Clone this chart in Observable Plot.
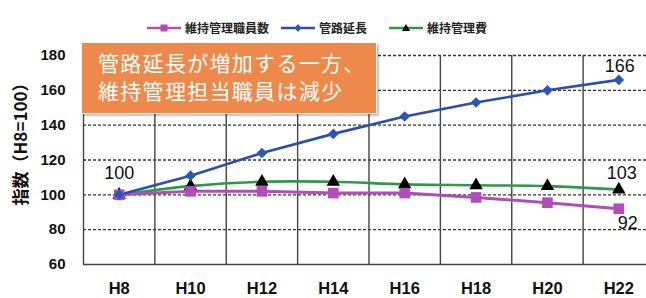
<!DOCTYPE html>
<html><head><meta charset="utf-8">
<script src="https://cdn.jsdelivr.net/npm/d3@7"></script>
<script src="https://cdn.jsdelivr.net/npm/@observablehq/plot@0.6"></script>
<style>
html,body{margin:0;padding:0;background:#fff;}
#wrap{position:relative;width:646px;height:298px;overflow:hidden;font-family:"Liberation Sans",Arial,"Noto Sans CJK JP",sans-serif;}
#wrap > svg{position:absolute;left:0;top:0;overflow:visible;}
.litem{position:absolute;top:19px;display:flex;align-items:center;font-family:"Noto Sans CJK JP",sans-serif;font-weight:700;font-size:12px;color:#222;white-space:nowrap;}
.litem svg{margin-right:4px;}
#note{position:absolute;left:81px;top:42px;width:296px;height:72px;background:#EE894B;border:1px solid #fff;box-shadow:2px 2px 2px rgba(0,0,0,0.25);color:#fff;font-family:"Noto Sans CJK JP",sans-serif;font-weight:400;font-size:21px;line-height:28px;padding:5px 0 0 16px;box-sizing:border-box;letter-spacing:1.3px;}
[aria-label^="x-axis"] text{font-size:16.5px;font-weight:700;fill:#111;}
[aria-label^="y-axis"] text{font-size:15px;font-weight:700;fill:#111;}
</style>
</head><body>
<div id="wrap"></div>
<script>
const categories = ["H8","H10","H12","H14","H16","H18","H20","H22"];
const staff = [100,102,102,101,101,98.5,95.5,92];
const pipe = [100,111,124,135,145,153,160,166];
const cost = [100,105,107.5,107.5,106,105.5,105,103];
const yTicks = [60,80,100,120,140,160,180];
const seriesNames = ["維持管理職員数","管路延長","維持管理費"];
const seriesColors = ["#B04DB8","#2C4FAE","#2E9A48"];
const yLabel = "指数（H8=100）";
const noteLines = ["管路延長が増加する一方、","維持管理担当職員は減少"];

const toRows = (vals) => vals.map((v,i)=>({i, v}));
const staffRows = toRows(staff), pipeRows = toRows(pipe), costRows = toRows(cost);
const boundaries = categories.slice(1).map((_,i)=>i+0.5);
const last = categories.length-1;
const lbl = (rows, idx, dx, dy) => Plot.text([rows[idx]], {x:"i", y:"v", text:d=>String(d.v), dx, dy, fontSize:18, fill:"#111"});

const chart = Plot.plot({
  width:646, height:298,
  marginTop:55, marginBottom:34, marginLeft:83, marginRight:0,
  style:{fontFamily:'"Liberation Sans",Arial,sans-serif', background:"transparent", overflow:"visible"},
  x:{domain:[-0.5, categories.length-0.5], range:[83,654], ticks:categories.map((_,i)=>i), tickFormat:i=>categories[i], tickSize:0, tickPadding:18, label:null},
  y:{domain:[60,180], ticks:yTicks, tickSize:0, tickPadding:18, label:null},
  marks:[
    Plot.ruleY(yTicks.slice(1), {stroke:"#333", strokeWidth:1.3, strokeDasharray:"3,2"}),
    Plot.ruleX(boundaries, {stroke:"#444", strokeWidth:1.4}),
    Plot.ruleY([60], {stroke:"#444", strokeWidth:1.4}),
    Plot.ruleX([-0.5], {stroke:"#444", strokeWidth:1.4}),
    Plot.line(costRows, {x:"i", y:"v", stroke:seriesColors[2], strokeWidth:2.6, curve:"catmull-rom"}),
    Plot.line(staffRows, {x:"i", y:"v", stroke:seriesColors[0], strokeWidth:3}),
    Plot.line(pipeRows, {x:"i", y:"v", stroke:seriesColors[1], strokeWidth:2.6}),
    Plot.dot(costRows, {x:"i", y:"v", symbol:"triangle", fill:"#000", r:5}),
    Plot.dot(staffRows, {x:"i", y:"v", symbol:"square", fill:seriesColors[0], r:6}),
    Plot.dot(pipeRows, {x:"i", y:"v", symbol:"diamond2", fill:"#2A56B8", r:4.8}),
    lbl(pipeRows, 0, 0, -22),
    lbl(pipeRows, last, 1, -14),
    lbl(costRows, last, 3, -16),
    lbl(staffRows, last, 9, 14),
    Plot.text([yLabel], {frameAnchor:"left", dx:-62, dy:-20, rotate:-90, textAnchor:"middle", fontSize:17, fontWeight:700, fill:"#111", fontFamily:'"Noto Sans CJK JP",sans-serif'})
  ]
});
const wrap = document.getElementById("wrap");
wrap.appendChild(chart);

// legend
const symbols = ["square","diamond","triangle"];
const itemLeft = [147, 281, 389];
seriesNames.forEach((name,k)=>{
  const item = document.createElement("div"); item.className="litem";
  item.style.left = itemLeft[k] + "px";
  const sw = document.createElementNS("http://www.w3.org/2000/svg","svg");
  sw.setAttribute("width","34"); sw.setAttribute("height","12");
  let marker = "";
  if (symbols[k]==="square") marker = `<rect x="13.5" y="2.5" width="7" height="7" fill="${seriesColors[k]}"/>`;
  else if (symbols[k]==="diamond") marker = `<path d="M17 2 L20.5 6 L17 10 L13.5 6Z" fill="#2A56B8"/>`;
  else marker = `<path d="M17 2 L21 9 L13 9Z" fill="#000"/>`;
  sw.innerHTML = `<line x1="0" x2="34" y1="6" y2="6" stroke="${seriesColors[k]}" stroke-width="2.4"/>${marker}`;
  item.appendChild(sw);
  const t = document.createElement("span"); t.textContent = name;
  item.appendChild(t);
  wrap.appendChild(item);
});

// note box
const note = document.createElement("div");
note.id = "note";
note.innerHTML = noteLines.map(s=>`<div>${s}</div>`).join("");
wrap.appendChild(note);
</script>
</body></html>
